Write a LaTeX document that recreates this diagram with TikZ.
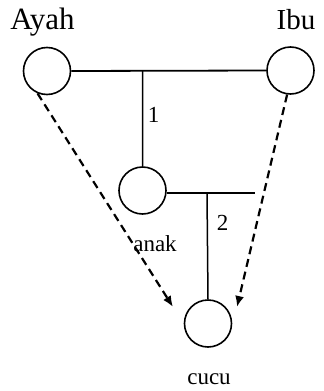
\documentclass[tikz,border=0pt]{standalone}
\usepackage{fontspec}
\setmainfont{Liberation Serif}
\usetikzlibrary{arrows.meta}
\begin{document}
\begin{tikzpicture}[x=1pt,y=-1pt,
  person/.style={draw,circle,minimum size=47pt,inner sep=0pt,line width=1.6pt},
  link/.style={line width=1.8pt},
  descent/.style={line width=2.2pt,dash pattern=on 8pt off 5pt,-{Latex[length=11pt,width=9pt]}},
  bigname/.style={font=\fontsize{31}{36}\selectfont,inner sep=0pt,anchor=base},
  smallname/.style={font=\fontsize{23}{27}\selectfont,inner sep=0pt,anchor=base}]
\useasboundingbox (0,0) rectangle (324,391);
\node[person] (ayah) at (47,71) {};
\node[person] (ibu) at (290.5,70.5) {};
\node[person] (anak) at (142.5,190.5) {};
\node[person] (cucu) at (208,323.5) {};
\node[bigname] (tayah) at (42.5,29) {Ayah};
\node[bigname,font=\fontsize{29}{34}\selectfont] (tibu) at (296,29) {Ibu};
\node[smallname] (tanak) at (155,251.5) {anak};
\node[smallname] (tcucu) at (209,384) {cucu};
\node[smallname] (t1) at (153.5,122) {1};
\node[smallname] (t2) at (222.5,230) {2};
\coordinate (m1) at (142.7,71);
\coordinate (m2) at (207,193);
\coordinate (e2) at (255,193);
\coordinate (tipa) at (173,307);
\coordinate (tipb) at (237,307);
\draw[link] (ayah.east) -- (ibu.west);
\draw[link,line width=1.5pt] (m1) -- (anak.north);
\draw[link,line width=1.5pt] (anak.east |- m2) -- (e2);
\draw[link,line width=1.5pt] (m2) -- (cucu.north);
\draw[descent] (ayah.247) -- (tipa);
\draw[descent] (ibu.262) -- (tipb);
\end{tikzpicture}
\end{document}
